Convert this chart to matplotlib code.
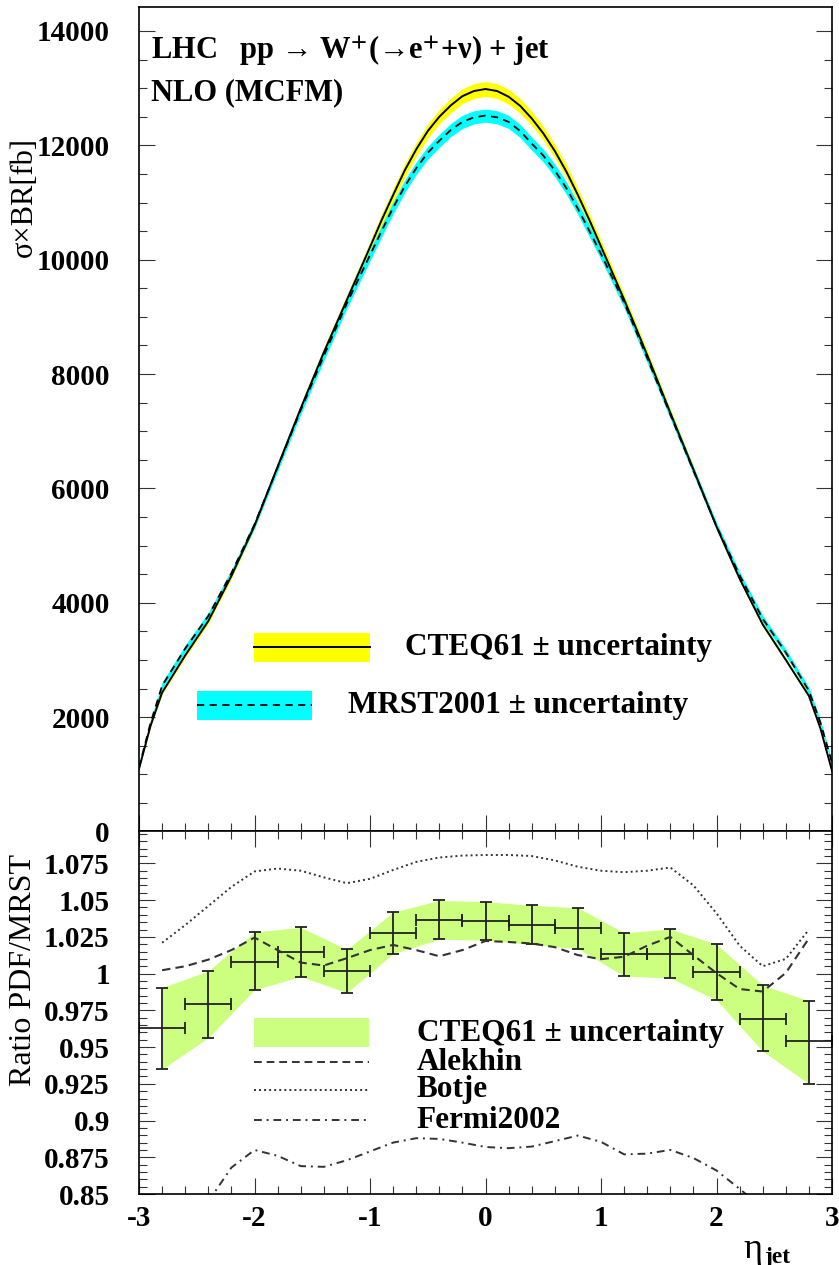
import matplotlib
matplotlib.use("Agg")
import matplotlib.pyplot as plt
import numpy as np
from matplotlib.patches import Rectangle
from matplotlib.ticker import MultipleLocator

plt.rcParams['font.family'] = ['Liberation Serif', 'DejaVu Serif']
plt.rcParams['mathtext.fontset'] = 'stix'

# --- cross section vs jet rapidity (fb) ---
eta = [-3.0, -2.9, -2.8, -2.6, -2.4, -2.2, -2.0, -1.8, -1.6, -1.4, -1.2, -1.0,
       -0.9, -0.8, -0.7, -0.6, -0.5, -0.4, -0.3, -0.2, -0.1, 0.0,
       0.1, 0.2, 0.3, 0.4, 0.5, 0.6, 0.7, 0.8, 0.9,
       1.0, 1.2, 1.4, 1.6, 1.8, 2.0, 2.2, 2.4, 2.6, 2.8, 2.9, 3.0]
cteq = [1100, 1850, 2430, 3080, 3680, 4470, 5350, 6380, 7400, 8380, 9300, 10220,
        10690, 11130, 11560, 11930, 12250, 12500, 12700, 12860, 12950, 12985,
        12950, 12850, 12690, 12470, 12210, 11900, 11540, 11130, 10690,
        10230, 9300, 8330, 7320, 6330, 5330, 4420, 3620, 3000, 2370, 1800, 1060]
cteq_err = [15, 25, 30, 35, 40, 45, 55, 65, 75, 85, 95, 105,
            110, 115, 118, 120, 122, 125, 128, 130, 130, 130,
            130, 130, 128, 125, 122, 120, 118, 115, 110,
            105, 95, 85, 75, 65, 55, 45, 40, 35, 30, 25, 15]
mrst = [1120, 1900, 2550, 3200, 3770, 4520, 5370, 6370, 7370, 8320, 9240, 10080,
        10500, 10910, 11280, 11600, 11870, 12080, 12270, 12410, 12490, 12520,
        12490, 12410, 12250, 12030, 11820, 11560, 11250, 10890, 10500,
        10100, 9250, 8280, 7290, 6310, 5340, 4480, 3720, 3130, 2460, 1900, 1200]
mrst_err = [40, 50, 60, 60, 60, 60, 65, 70, 75, 85, 90, 100,
            102, 105, 108, 110, 112, 115, 115, 115, 115, 115,
            115, 115, 115, 115, 112, 110, 108, 105, 102,
            100, 90, 85, 75, 70, 65, 60, 60, 60, 60, 50, 40]

# --- ratio CTEQ61/MRST in bins of 0.4 ---
ratio_eta = [-2.8, -2.4, -2.0, -1.6, -1.2, -0.8, -0.4, 0.0, 0.4, 0.8, 1.2, 1.6, 2.0, 2.4, 2.8]
ratio_xerr = 0.2
ratio_val = [0.963, 0.979, 1.008, 1.0148, 1.0016, 1.0277, 1.0364, 1.036, 1.033, 1.0312,
             1.013, 1.0132, 1.0012, 0.9694, 0.9542]
ratio_hi = [0.9905, 1.0018, 1.0284, 1.0314, 1.0164, 1.0418, 1.0498, 1.049, 1.0464, 1.0448,
            1.0278, 1.0303, 1.020, 0.9921, 0.9815]
ratio_lo = [0.935, 0.9564, 0.989, 0.998, 0.987, 1.0136, 1.0234, 1.0227, 1.0198, 1.0169,
            0.9983, 0.997, 0.982, 0.9472, 0.925]

# other PDF sets relative to MRST
alt_eta = [-2.8, -2.6, -2.4, -2.2, -2.0, -1.8, -1.6, -1.4, -1.2, -1.0, -0.8, -0.6, -0.4, -0.2,
           0.0, 0.2, 0.4, 0.6, 0.8, 1.0, 1.2, 1.4, 1.6, 1.8, 2.0, 2.2, 2.4, 2.6, 2.8]
alekhin = [1.0023, 1.005, 1.0095, 1.016, 1.0245, 1.016, 1.0075, 1.0055, 1.0105, 1.016,
           1.0195, 1.016, 1.0118, 1.016, 1.0222, 1.0215, 1.0205, 1.018, 1.0126, 1.0098,
           1.0115, 1.019, 1.025, 1.0125, 1.0003, 0.9895, 0.9878, 1.0005, 1.024]
botje = [1.021, 1.033, 1.046, 1.059, 1.0695, 1.0715, 1.070, 1.0655, 1.0615, 1.0645,
         1.0705, 1.076, 1.079, 1.0803, 1.0807, 1.0807, 1.080, 1.077, 1.0727, 1.070,
         1.069, 1.070, 1.0722, 1.060, 1.041, 1.019, 1.005, 1.010, 1.030]
fermi_eta = [-2.4, -2.2, -2.0, -1.8, -1.6, -1.4, -1.2, -1.0, -0.8, -0.6, -0.4, -0.2, 0.0,
             0.2, 0.4, 0.6, 0.8, 1.0, 1.2, 1.4, 1.6, 1.8, 2.0, 2.2, 2.3]
fermi = [0.845, 0.868, 0.880, 0.876, 0.869, 0.8685, 0.873, 0.879, 0.885, 0.888, 0.8875,
         0.885, 0.882, 0.8812, 0.8823, 0.886, 0.8898, 0.8855, 0.877, 0.8775, 0.880, 0.8745,
         0.866, 0.8535, 0.847]

top_ticks = [0, 2000, 4000, 6000, 8000, 10000, 12000, 14000]
ratio_ticks = [0.85, 0.875, 0.9, 0.925, 0.95, 0.975, 1.0, 1.025, 1.05, 1.075]
ratio_ticklabels = ['0.85', '0.875', '0.9', '0.925', '0.95', '0.975', '1', '1.025', '1.05', '1.075']
x_ticks = [-3, -2, -1, 0, 1, 2, 3]

fs = 21
lw_frame = 1.2

fig = plt.figure(figsize=(8.39, 12.65), dpi=100)
ax1 = fig.add_axes([0.1657, 0.3427, 0.826, 0.6518])
ax2 = fig.add_axes([0.1657, 0.0561, 0.826, 0.2866])

for ax in (ax1, ax2):
    for s in ax.spines.values():
        s.set_linewidth(lw_frame)
    ax.set_xlim(-3, 3)
    ax.xaxis.set_major_locator(MultipleLocator(1))
    ax.xaxis.set_minor_locator(MultipleLocator(0.2))
    ax.tick_params(which='both', direction='in', width=0.8, color='#333333')
    ax.tick_params(which='major', length=11.5)
    ax.tick_params(which='minor', length=5.8)

# ---------------- upper panel ----------------
ax1.set_ylim(0, 14420)
ax1.yaxis.set_minor_locator(MultipleLocator(500))
ax1.set_yticks(top_ticks, [str(t) for t in top_ticks], fontsize=fs, fontweight='bold')
ax1.tick_params(which='both', left=True, right=True, top=False, bottom=True,
                labelbottom=False, pad=21)

e = np.array(eta)
c = np.array(cteq)
m = np.array(mrst)
ax1.fill_between(e, c - np.array(cteq_err), c + np.array(cteq_err), color='#ffff00', lw=0)
ax1.fill_between(e, m - np.array(mrst_err), m + np.array(mrst_err), color='#00ffff', lw=0)
ax1.plot(e, c, color='k', lw=1.4)
ax1.plot(e, m, color='k', lw=1.3, dashes=(4, 3))

ax1.text(0.0173, 0.937, r"LHC   pp → W$^{\mathbf{+}}$(→e$^{\mathbf{+}}$+ν) + jet",
         transform=ax1.transAxes, fontsize=22, fontweight='bold', va='baseline')
ax1.text(0.0173, 0.8872, "NLO (MCFM)", transform=ax1.transAxes,
         fontsize=22, fontweight='bold', va='baseline')

# legend of the upper panel
ax1.add_patch(Rectangle((0.166, 0.2056), 0.1674, 0.0351, transform=ax1.transAxes,
                        color='#ffff00', lw=0))
ax1.plot([0.166, 0.3334], [0.2232, 0.2232], transform=ax1.transAxes, color='k', lw=1.4)
ax1.text(0.384, 0.2232, "CTEQ61 ± uncertainty", transform=ax1.transAxes,
         fontsize=22.5, fontweight='bold', va='center')
ax1.add_patch(Rectangle((0.0837, 0.1354), 0.1659, 0.0347, transform=ax1.transAxes,
                        color='#00ffff', lw=0))
ax1.plot([0.0837, 0.2496], [0.1528, 0.1528], transform=ax1.transAxes, color='k',
         lw=1.3, dashes=(4, 3))
ax1.text(0.3016, 0.1528, "MRST2001 ± uncertainty", transform=ax1.transAxes,
         fontsize=22.5, fontweight='bold', va='center')

fig.text(24 / 839, 1 - 197 / 1265, "σ×BR[fb]", rotation=90, ha='center', va='center',
         fontsize=22)

# ---------------- ratio panel ----------------
ax2.set_ylim(0.85, 1.0967)
ax2.yaxis.set_minor_locator(MultipleLocator(0.005))
ax2.set_yticks(ratio_ticks, ratio_ticklabels, fontsize=fs, fontweight='bold')
ax2.set_xticks(x_ticks, [str(t) for t in x_ticks], fontsize=fs, fontweight='bold')
ax2.tick_params(which='both', left=True, right=True, top=True, bottom=True)
ax2.tick_params(axis='y', pad=21)
ax2.tick_params(axis='x', pad=8)

ax2.fill_between(ratio_eta, ratio_lo, ratio_hi, color='#ccff80', lw=0)
rv = np.array(ratio_val)
ax2.errorbar(ratio_eta, ratio_val, xerr=ratio_xerr,
             yerr=[rv - np.array(ratio_lo), np.array(ratio_hi) - rv],
             fmt='none', ecolor='#222222', elinewidth=1.3, capsize=4.5, capthick=1.3)
ax2.plot(alt_eta, alekhin, color='#333333', lw=1.5, dashes=(4, 2.5))
ax2.plot(alt_eta, botje, color='#333333', lw=1.4, dashes=(1, 1.6))
ax2.plot(fermi_eta, fermi, color='#333333', lw=1.4, dashes=(4, 2.5, 1, 2.5))

# legend of the ratio panel
ax2.add_patch(Rectangle((0.166, 0.4055), 0.166, 0.080, transform=ax2.transAxes,
                        color='#ccff80', lw=0))
ax2.text(0.401, 0.444, "CTEQ61 ± uncertainty", transform=ax2.transAxes,
         fontsize=22.5, fontweight='bold', va='center')
leg_lines = [("Alekhin", 0.364, (4, 2.5)), ("Botje", 0.287, (1, 1.6)),
             ("Fermi2002", 0.204, (4, 2.5, 1, 2.5))]
for name, yy, dsh in leg_lines:
    ax2.plot([0.166, 0.332], [yy, yy], transform=ax2.transAxes, color='#333333',
             lw=1.4, dashes=dsh)
    ax2.text(0.401, yy, name, transform=ax2.transAxes, fontsize=22.5,
             fontweight='bold', va='center')

fig.text(24 / 839, 1 - 970 / 1265, "Ratio PDF/MRST", rotation=90, ha='center',
         va='center', fontsize=23)
# eta_jet axis title
fig.text(753 / 839, 1 - 1250 / 1265, "η", ha='center', va='center', fontsize=26)
fig.text(764 / 839, 1 - 1257 / 1265, "jet", ha='left', va='center', fontsize=17,
         fontweight='bold')

fig.savefig("out.png", dpi=100)
